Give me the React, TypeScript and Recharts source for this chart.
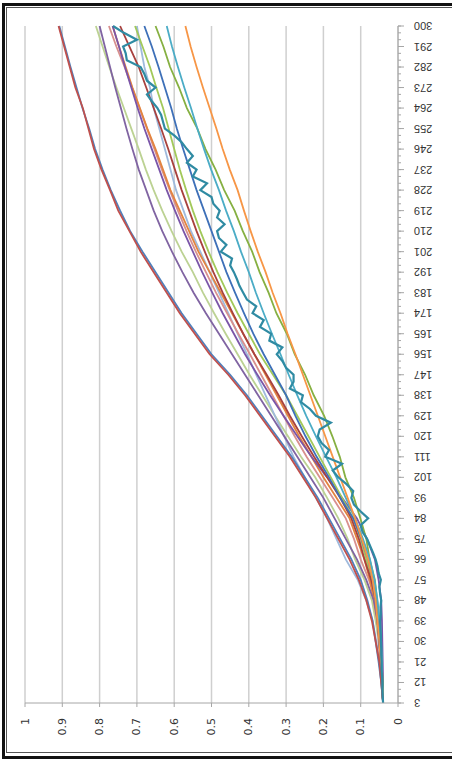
import { LineChart, Line, XAxis, YAxis, CartesianGrid } from "recharts"

// category axis: 3 .. 300, step 3 (every third one is labelled)
const categories = [
  3, 6, 9, 12, 15, 18, 21, 24, 27, 30, 33, 36, 39, 42, 45, 48, 51, 54, 57, 60,
  63, 66, 69, 72, 75, 78, 81, 84, 87, 90, 93, 96, 99, 102, 105, 108, 111, 114, 117, 120,
  123, 126, 129, 132, 135, 138, 141, 144, 147, 150, 153, 156, 159, 162, 165, 168, 171, 174, 177, 180,
  183, 186, 189, 192, 195, 198, 201, 204, 207, 210, 213, 216, 219, 222, 225, 228, 231, 234, 237, 240,
  243, 246, 249, 252, 255, 258, 261, 264, 267, 270, 273, 276, 279, 282, 285, 288, 291, 294, 297, 300,
]

const valueTicks = [0, 0.1, 0.2, 0.3, 0.4, 0.5, 0.6, 0.7, 0.8, 0.9, 1]

// most series read at 3, 12, 21 ... 300 (every 9)
const red = [0.04, 0.045, 0.05, 0.06, 0.07, 0.085, 0.105, 0.13, 0.16, 0.19, 0.22, 0.255, 0.29, 0.33, 0.37, 0.41, 0.455, 0.505, 0.545, 0.585, 0.62, 0.655, 0.69, 0.72, 0.75, 0.772, 0.795, 0.815, 0.83, 0.845, 0.865, 0.88, 0.895, 0.91]
const blue = [0.04, 0.045, 0.052, 0.06, 0.068, 0.082, 0.1, 0.125, 0.155, 0.185, 0.215, 0.25, 0.285, 0.325, 0.365, 0.405, 0.45, 0.5, 0.54, 0.58, 0.615, 0.65, 0.685, 0.718, 0.745, 0.77, 0.792, 0.812, 0.828, 0.846, 0.862, 0.878, 0.893, 0.908]
const lightBlue = [0.04, 0.045, 0.05, 0.058, 0.068, 0.085, 0.108, 0.14, 0.165, 0.19, 0.22, 0.25, 0.28, 0.305, 0.33, 0.355, 0.38, 0.405, 0.43, 0.455, 0.48, 0.505, 0.53, 0.555, 0.575, 0.595, 0.61, 0.625, 0.64, 0.655, 0.665, 0.68, 0.69, 0.7]
const purple = [0.04, 0.042, 0.045, 0.05, 0.055, 0.065, 0.085, 0.11, 0.14, 0.17, 0.2, 0.235, 0.27, 0.305, 0.34, 0.375, 0.41, 0.445, 0.48, 0.515, 0.548, 0.578, 0.606, 0.632, 0.655, 0.675, 0.695, 0.712, 0.728, 0.743, 0.758, 0.772, 0.786, 0.8]
const violet = [0.04, 0.04, 0.041, 0.042, 0.043, 0.045, 0.052, 0.062, 0.083, 0.11, 0.15, 0.19, 0.232, 0.27, 0.307, 0.343, 0.377, 0.41, 0.44, 0.47, 0.498, 0.525, 0.55, 0.575, 0.598, 0.62, 0.64, 0.66, 0.68, 0.698, 0.715, 0.732, 0.748, 0.765]
const pink = [0.04, 0.044, 0.048, 0.052, 0.055, 0.06, 0.078, 0.1, 0.118, 0.14, 0.175, 0.21, 0.245, 0.277, 0.307, 0.337, 0.367, 0.397, 0.428, 0.458, 0.488, 0.515, 0.542, 0.567, 0.59, 0.612, 0.633, 0.653, 0.673, 0.693, 0.713, 0.733, 0.755, 0.775]
const darkOrange = [0.04, 0.043, 0.047, 0.05, 0.056, 0.065, 0.075, 0.09, 0.11, 0.13, 0.165, 0.2, 0.232, 0.265, 0.295, 0.325, 0.355, 0.385, 0.415, 0.445, 0.475, 0.505, 0.535, 0.56, 0.585, 0.61, 0.63, 0.65, 0.672, 0.692, 0.712, 0.73, 0.748, 0.765]
const darkRed = [0.04, 0.043, 0.046, 0.05, 0.055, 0.06, 0.072, 0.09, 0.105, 0.125, 0.155, 0.19, 0.225, 0.258, 0.29, 0.32, 0.352, 0.385, 0.415, 0.443, 0.47, 0.495, 0.518, 0.54, 0.56, 0.58, 0.598, 0.616, 0.635, 0.655, 0.675, 0.695, 0.72, 0.745]
const limeGreen = [0.04, 0.043, 0.046, 0.05, 0.055, 0.06, 0.07, 0.085, 0.1, 0.12, 0.15, 0.18, 0.21, 0.24, 0.27, 0.3, 0.335, 0.37, 0.4, 0.43, 0.458, 0.484, 0.508, 0.53, 0.55, 0.568, 0.585, 0.6, 0.615, 0.63, 0.648, 0.665, 0.685, 0.705]
const midBlue = [0.04, 0.043, 0.046, 0.05, 0.054, 0.06, 0.068, 0.08, 0.098, 0.12, 0.155, 0.185, 0.218, 0.248, 0.275, 0.3, 0.33, 0.36, 0.388, 0.413, 0.437, 0.46, 0.48, 0.5, 0.52, 0.54, 0.558, 0.576, 0.593, 0.608, 0.625, 0.642, 0.66, 0.68]
const lightGreen = [0.04, 0.043, 0.047, 0.052, 0.06, 0.07, 0.09, 0.115, 0.135, 0.16, 0.19, 0.222, 0.26, 0.295, 0.33, 0.364, 0.398, 0.43, 0.462, 0.493, 0.523, 0.55, 0.58, 0.607, 0.632, 0.655, 0.676, 0.695, 0.715, 0.735, 0.755, 0.774, 0.792, 0.81]
const green = [0.04, 0.041, 0.044, 0.046, 0.049, 0.056, 0.062, 0.076, 0.085, 0.101, 0.118, 0.141, 0.156, 0.176, 0.198, 0.226, 0.249, 0.277, 0.298, 0.326, 0.347, 0.371, 0.391, 0.416, 0.438, 0.466, 0.489, 0.516, 0.538, 0.566, 0.587, 0.611, 0.629, 0.65]
const orange = [0.04, 0.043, 0.046, 0.05, 0.055, 0.06, 0.068, 0.08, 0.097, 0.115, 0.135, 0.155, 0.175, 0.195, 0.215, 0.235, 0.255, 0.275, 0.296, 0.315, 0.336, 0.355, 0.376, 0.395, 0.413, 0.43, 0.451, 0.47, 0.487, 0.505, 0.523, 0.54, 0.556, 0.57]
const aqua = [0.04, 0.042, 0.043, 0.045, 0.05, 0.055, 0.063, 0.075, 0.094, 0.115, 0.14, 0.165, 0.193, 0.22, 0.246, 0.27, 0.293, 0.315, 0.338, 0.36, 0.381, 0.4, 0.421, 0.44, 0.461, 0.48, 0.501, 0.52, 0.538, 0.555, 0.573, 0.59, 0.606, 0.62]

// the jagged teal one needs every category
const teal = [
  0.04, 0.041, 0.042, 0.042, 0.043, 0.044, 0.044, 0.045, 0.045, 0.046,
  0.046, 0.047, 0.048, 0.046, 0.047, 0.045, 0.048, 0.05, 0.046, 0.052,
  0.055, 0.06, 0.067, 0.075, 0.083, 0.095, 0.1, 0.08, 0.1, 0.118,
  0.125, 0.12, 0.138, 0.16, 0.175, 0.15, 0.195, 0.185, 0.205, 0.215,
  0.21, 0.18, 0.22, 0.236, 0.26, 0.255, 0.29, 0.28, 0.28, 0.3,
  0.31, 0.325, 0.31, 0.345, 0.34, 0.37, 0.36, 0.39, 0.38, 0.405,
  0.415, 0.425, 0.432, 0.44, 0.45, 0.445, 0.475, 0.46, 0.48, 0.485,
  0.465, 0.485, 0.478, 0.495, 0.5, 0.53, 0.512, 0.55, 0.54, 0.566,
  0.55, 0.566, 0.58, 0.6, 0.625, 0.63, 0.635, 0.645, 0.66, 0.673,
  0.65, 0.673, 0.68, 0.69, 0.727, 0.73, 0.737, 0.7, 0.735, 0.764,
]

const series = [
  { key: "lightGreen", color: "#bcd293", values: lightGreen },
  { key: "lightBlue", color: "#9fbadd", values: lightBlue },
  { key: "pink", color: "#d8908e", values: pink },
  { key: "darkOrange", color: "#e3843f", values: darkOrange },
  { key: "violet", color: "#7a55a8", values: violet },
  { key: "limeGreen", color: "#a2c95a", values: limeGreen },
  { key: "darkRed", color: "#a8413e", values: darkRed },
  { key: "midBlue", color: "#3e70b8", values: midBlue },
  { key: "purple", color: "#8064a2", values: purple },
  { key: "green", color: "#86b042", values: green },
  { key: "aqua", color: "#4bacc6", values: aqua },
  { key: "orange", color: "#f79646", values: orange },
  { key: "blue", color: "#4f81bd", values: blue },
  { key: "red", color: "#c0504d", values: red },
  { key: "teal", color: "#2f8ba3", values: teal },
]

const table = categories.map((cat, i) => {
  const row: Record<string, number | null> = { cat }
  for (const s of series) {
    if (s.values.length === categories.length) row[s.key] = s.values[i]
    else row[s.key] = i % 3 === 0 ? s.values[i / 3] : null
  }
  return row
})

const axisGray = "#a6a6a6"
const labelFont = "'Liberation Sans', Arial, sans-serif"

function CategoryTick(props: any) {
  const { x, y, payload } = props
  if ((payload.value - 3) % 9 !== 0) return <g />
  return (
    <g>
      <line x1={x - 16} x2={x - 10} y1={y} y2={y} stroke={axisGray} />
      <text
        x={x}
        y={y}
        transform={`rotate(180, ${x}, ${y})`}
        textAnchor="end"
        dominantBaseline="central"
        fontSize={11}
        fontFamily={labelFont}
        fill="#333"
      >
        {payload.value}
      </text>
    </g>
  )
}

function ValueTick(props: any) {
  const { x, y, payload } = props
  return (
    <text
      x={x}
      y={y}
      transform={`rotate(-90, ${x}, ${y})`}
      textAnchor="end"
      dominantBaseline="central"
      fontSize={11}
      fontFamily="'DejaVu Sans', sans-serif"
      fill="#333"
    >
      {String(payload.value)}
    </text>
  )
}

export default function App() {
  return (
    <div
      style={{
        position: "absolute",
        left: 0,
        top: 0,
        width: 452,
        height: 759,
        overflow: "hidden",
        background: "#fff",
      }}
    >
      <div
        style={{
          position: "absolute",
          left: 2,
          top: 3,
          width: 480,
          height: 750,
          borderLeft: "3px solid #111",
          borderTop: "3px solid #111",
          borderBottom: "3px solid #111",
        }}
      />
      <div
        style={{
          position: "absolute",
          left: 6,
          top: 7,
          width: 480,
          height: 744,
          borderLeft: "1px solid #555",
          borderTop: "1px solid #555",
          borderBottom: "1px solid #555",
        }}
      />
      <div style={{ position: "absolute", left: 0, top: 0 }}>
        <LineChart
          width={452}
          height={759}
          layout="vertical"
          data={table}
          margin={{ top: 26, right: 0, bottom: 0, left: 25 }}
        >
          <CartesianGrid horizontal={false} stroke="#cfcfcf" strokeWidth={1.5} />
          <XAxis
            type="number"
            domain={[0, 1]}
            ticks={valueTicks}
            reversed
            height={56}
            tickSize={4}
            tickMargin={11}
            axisLine={{ stroke: axisGray }}
            tickLine={{ stroke: axisGray }}
            tick={<ValueTick />}
          />
          <YAxis
            type="category"
            dataKey="cat"
            orientation="right"
            reversed
            width={54}
            interval={0}
            tickSize={3}
            tickMargin={13}
            axisLine={{ stroke: axisGray }}
            tickLine={{ stroke: axisGray }}
            tick={<CategoryTick />}
          />
          {series.map((s) => (
            <Line
              key={s.key}
              dataKey={s.key}
              stroke={s.color}
              strokeWidth={s.key === "teal" ? 2.2 : 1.8}
              dot={false}
              connectNulls
              isAnimationActive={false}
            />
          ))}
        </LineChart>
      </div>
    </div>
  )
}
